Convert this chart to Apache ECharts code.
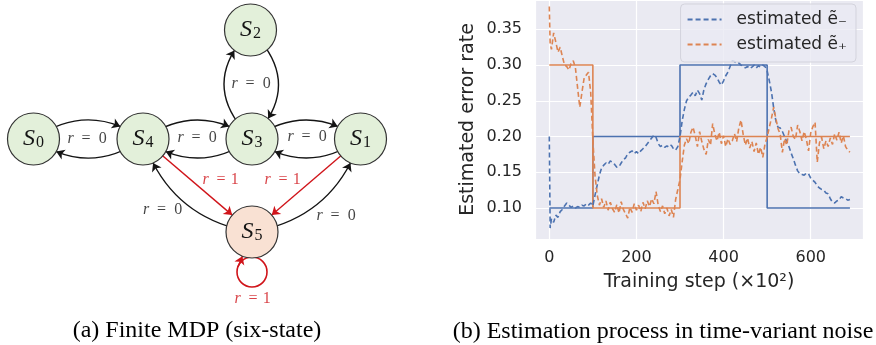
<!DOCTYPE html>
<html>
<head>
<meta charset="utf-8">
<script src="https://cdn.jsdelivr.net/npm/echarts@6/dist/echarts.min.js"></script>
<style>
html, body { margin: 0; padding: 0; background: #fff; }
#chart { width: 876px; height: 345px; }
</style>
</head>
<body>
<div id="chart"></div>
<script>
// ---------- (b) estimation process ----------
// training steps (x10^2): 0, 2, then every 5 up to 690
var steps = [0, 2];
for (var s = 5; s <= 690; s += 5) steps.push(s);

var negEst = [
  0.200, 0.072,
  0.085, 0.080, 0.090, 0.087, 0.095, 0.098, 0.103, 0.107, 0.104, 0.101,
  0.103, 0.100, 0.102, 0.101, 0.104, 0.103, 0.106, 0.104, 0.107, 0.103,
  0.118, 0.132, 0.146, 0.156, 0.160, 0.163, 0.161, 0.166, 0.164, 0.161,
  0.157, 0.158, 0.163, 0.168, 0.170, 0.176, 0.178, 0.180, 0.176, 0.179,
  0.176, 0.180, 0.183, 0.186, 0.190, 0.194, 0.198, 0.202, 0.199, 0.190,
  0.186, 0.188, 0.185, 0.187, 0.185, 0.188, 0.183, 0.181, 0.186, 0.200,
  0.222, 0.238, 0.250, 0.255, 0.258, 0.262, 0.257, 0.265, 0.260, 0.251,
  0.266, 0.274, 0.280, 0.285, 0.288, 0.286, 0.282, 0.276, 0.272, 0.278,
  0.285, 0.290, 0.298, 0.306, 0.305, 0.302, 0.303, 0.300, 0.298, 0.296,
  0.298, 0.295, 0.297, 0.300, 0.296, 0.299, 0.297, 0.300, 0.298, 0.292,
  0.278, 0.262, 0.240, 0.222, 0.213, 0.212, 0.207, 0.200, 0.193, 0.186,
  0.177, 0.169, 0.160, 0.152, 0.148, 0.147, 0.146, 0.149, 0.148, 0.142,
  0.139, 0.136, 0.131, 0.128, 0.126, 0.125, 0.121, 0.120, 0.113, 0.108,
  0.107, 0.110, 0.111, 0.116, 0.114, 0.113, 0.111, 0.112
];
var posEst = [
  0.382, 0.330,
  0.322, 0.345, 0.332, 0.318, 0.325, 0.312, 0.300, 0.298, 0.293, 0.302,
  0.306, 0.296, 0.268, 0.241, 0.262, 0.282, 0.286, 0.290, 0.262, 0.195,
  0.145, 0.118, 0.104, 0.113, 0.101, 0.110, 0.097, 0.108, 0.099, 0.094,
  0.105, 0.093, 0.109, 0.098, 0.092, 0.086, 0.101, 0.094, 0.106, 0.097,
  0.104, 0.095, 0.108, 0.099, 0.110, 0.102, 0.113, 0.106, 0.123, 0.104,
  0.095, 0.103, 0.092, 0.100, 0.089, 0.098, 0.087, 0.112, 0.126, 0.140,
  0.165, 0.188, 0.197, 0.190, 0.206, 0.213, 0.201, 0.186, 0.207, 0.193,
  0.182, 0.175, 0.196, 0.188, 0.218, 0.203, 0.194, 0.206, 0.190, 0.201,
  0.186, 0.197, 0.189, 0.194, 0.204, 0.193, 0.212, 0.223, 0.203, 0.188,
  0.198, 0.184, 0.193, 0.179, 0.191, 0.175, 0.185, 0.171, 0.189, 0.199,
  0.213, 0.226, 0.241, 0.225, 0.211, 0.203, 0.178, 0.197, 0.188, 0.208,
  0.213, 0.200, 0.196, 0.216, 0.207, 0.194, 0.207, 0.196, 0.180, 0.205,
  0.214, 0.220, 0.164, 0.191, 0.199, 0.183, 0.194, 0.186, 0.198, 0.189,
  0.204, 0.195, 0.206, 0.191, 0.201, 0.186, 0.181, 0.178
];

// true (time-variant) noise rates, piecewise constant
var trueSteps = [0, 100, 300, 500, 690];
var trueNeg = [0.1, 0.2, 0.3, 0.1, 0.1];
var truePos = [0.3, 0.1, 0.2, 0.2, 0.2];

var legendNames = ['estimated ẽ₋', 'estimated ẽ₊'];

// ---------- (a) six-state MDP ----------
var nodeNames = ['S0', 'S1', 'S2', 'S3', 'S4', 'S5'];
var nodeX = [33.5, 360.5, 250.5, 252, 143, 252];
var nodeY = [139, 139, 30, 139, 139, 232];

var linkFrom   = ['S0', 'S4', 'S4', 'S3', 'S3', 'S1', 'S3', 'S2', 'S4', 'S1', 'S5', 'S5'];
var linkTo     = ['S4', 'S0', 'S3', 'S4', 'S1', 'S3', 'S2', 'S3', 'S5', 'S5', 'S4', 'S1'];
var linkReward = [0, 0, 0, 0, 0, 0, 0, 0, 1, 1, 0, 0];
var linkBend   = [0.35, 0.35, 0.35, 0.35, 0.35, 0.35, 0.5, 0.5, 0, 0, 0.3, -0.3];

// self loop on S5 (reward 1)
var loopCenter = [252, 272];
var loopTail = [238, 267];

var labelX = [87, 197, 307, 251, 220.5, 282.5, 162.5, 336, 252.5];
var labelY = [139, 137.5, 137, 84, 180, 180, 210, 216, 299];
var labelReward = [0, 0, 0, 0, 1, 1, 0, 0, 1];

var BLUE = '#4C72B0', ORANGE = '#DD8452', RED = '#D0141A', INK = '#141414';
var TXT = '#262626';

function pairs(xs, ys) {
  return xs.map(function (x, i) { return [x, ys[i]]; });
}

var graphNodes = [
  { name: 'loop', value: loopCenter, symbolSize: 30,
    itemStyle: { color: 'rgba(0,0,0,0)', borderColor: RED, borderWidth: 1.6 }, label: { show: false } },
  { name: 'loopTail', value: loopTail, symbolSize: 0, label: { show: false } }
];
nodeNames.forEach(function (n, i) {
  graphNodes.push({
    name: n, value: [nodeX[i], nodeY[i]],
    itemStyle: { color: n === 'S5' ? '#F9E1D3' : '#E3F0DA' }
  });
});

var graphLinks = linkFrom.map(function (f, i) {
  return {
    source: f, target: linkTo[i],
    lineStyle: { color: linkReward[i] ? RED : INK, curveness: linkBend[i] }
  };
});
graphLinks.push({ source: 'loopTail', target: 'S5', lineStyle: { color: RED, curveness: 0 } });

var edgeLabels = labelX.map(function (x, i) {
  return { value: [x, labelY[i]], reward: labelReward[i] };
});

var chart = echarts.init(document.getElementById('chart'));
chart.setOption({
  animation: false,
  grid: [
    { left: 535, right: 13, top: 0, bottom: 106, show: true, backgroundColor: '#EAEAF2', borderWidth: 0 },
    { left: 0, top: 0, width: 440, height: 345, show: false }
  ],
  xAxis: [
    {
      type: 'value', gridIndex: 0, min: -32.8, max: 720, splitNumber: 4,
      axisLine: { show: false }, axisTick: { show: false },
      axisLabel: { showMinLabel: false, showMaxLabel: false, color: TXT, fontSize: 16, margin: 11, fontFamily: 'DejaVu Sans' },
      splitLine: { lineStyle: { color: '#ffffff', width: 1.2 } },
      name: 'Training step (×10²)', nameLocation: 'middle', nameGap: 34,
      nameTextStyle: { fontSize: 19, color: TXT, fontFamily: 'DejaVu Sans' }
    },
    { type: 'value', gridIndex: 1, min: 0, max: 440, show: false }
  ],
  yAxis: [
    {
      type: 'value', gridIndex: 0, min: 0.0567, max: 0.391, splitNumber: 7,
      axisLine: { show: false }, axisTick: { show: false },
      axisLabel: {
        showMinLabel: false, showMaxLabel: false, color: TXT, fontSize: 16, margin: 13, fontFamily: 'DejaVu Sans',
        formatter: function (v) { return v.toFixed(2); }
      },
      splitLine: { lineStyle: { color: '#ffffff', width: 1.2 } },
      name: 'Estimated error rate', nameLocation: 'middle', nameGap: 57,
      nameTextStyle: { fontSize: 19, color: TXT, fontFamily: 'DejaVu Sans' }
    },
    { type: 'value', gridIndex: 1, min: 0, max: 345, inverse: true, show: false }
  ],
  legend: {
    data: legendNames, orient: 'vertical', right: 20, top: 4,
    itemWidth: 34, itemHeight: 12, itemGap: 8,
    padding: [7, 9, 9, 6],
    itemStyle: { opacity: 0 },
    backgroundColor: 'rgba(234,234,242,0.8)', borderColor: '#d3d3dc', borderWidth: 1, borderRadius: 4,
    textStyle: { fontFamily: 'DejaVu Sans', fontSize: 17, color: TXT, padding: [0, 0, 0, 10] }
  },
  graphic: [
    { type: 'text', x: 197, y: 331, style: { text: '(a) Finite MDP (six-state)', fontFamily: 'Liberation Serif', fontSize: 24, fill: '#000', align: 'center', verticalAlign: 'middle' } },
    { type: 'text', x: 663, y: 332, style: { text: '(b) Estimation process in time-variant noise', fontFamily: 'Liberation Serif', fontSize: 24, fill: '#000', align: 'center', verticalAlign: 'middle' } }
  ],
  series: [
    { name: 'true e-', type: 'line', step: 'end', showSymbol: false, xAxisIndex: 0, yAxisIndex: 0,
      data: pairs(trueSteps, trueNeg), lineStyle: { color: BLUE, width: 1.6 }, itemStyle: { color: BLUE } },
    { name: 'true e+', type: 'line', step: 'end', showSymbol: false, xAxisIndex: 0, yAxisIndex: 0,
      data: pairs(trueSteps, truePos), lineStyle: { color: ORANGE, width: 1.6 }, itemStyle: { color: ORANGE } },
    { name: legendNames[0], type: 'line', showSymbol: false, symbol: 'none', xAxisIndex: 0, yAxisIndex: 0,
      data: pairs(steps, negEst), lineStyle: { color: BLUE, width: 1.6, type: [5, 3] }, itemStyle: { color: BLUE } },
    { name: legendNames[1], type: 'line', showSymbol: false, symbol: 'none', xAxisIndex: 0, yAxisIndex: 0,
      data: pairs(steps, posEst), lineStyle: { color: ORANGE, width: 1.6, type: [5, 3] }, itemStyle: { color: ORANGE } },
    {
      name: 'mdp', type: 'graph', layout: 'none', coordinateSystem: 'cartesian2d', xAxisIndex: 1, yAxisIndex: 1,
      symbolSize: 52, roam: false,
      itemStyle: { borderColor: '#333', borderWidth: 1.2 },
      lineStyle: { opacity: 1, width: 1.4 },
      edgeSymbol: ['none', 'arrow'], edgeSymbolSize: [0, 8],
      label: {
        show: true, position: 'inside',
        formatter: function (p) { return '{s|S}{n|' + p.name.slice(1) + '}'; },
        rich: {
          s: { fontFamily: 'Liberation Serif', fontStyle: 'italic', fontSize: 24, color: INK, lineHeight: 24, verticalAlign: 'middle' },
          n: { fontFamily: 'Liberation Serif', fontSize: 16, color: INK, lineHeight: 16, verticalAlign: 'bottom', padding: [10, 0, 0, 1] }
        }
      },
      data: graphNodes, links: graphLinks
    },
    {
      name: 'rewards', type: 'scatter', xAxisIndex: 1, yAxisIndex: 1, symbolSize: 1,
      itemStyle: { color: 'rgba(0,0,0,0)' },
      data: edgeLabels,
      label: {
        show: true, position: 'inside',
        formatter: function (p) {
          var r = p.data.reward;
          var c = r ? 'R' : 'K';
          return '{r' + c + '|r}{e' + c + '|=}{v' + c + '|' + r + '}';
        },
        rich: {
          rK: { fontFamily: 'Liberation Serif', fontStyle: 'italic', fontSize: 16, color: INK },
          eK: { fontFamily: 'Liberation Serif', fontSize: 16, color: INK, padding: [0, 8, 0, 8] },
          vK: { fontFamily: 'Liberation Serif', fontSize: 16, color: INK },
          rR: { fontFamily: 'Liberation Serif', fontStyle: 'italic', fontSize: 16, color: RED },
          eR: { fontFamily: 'Liberation Serif', fontSize: 16, color: RED, padding: [0, 5, 0, 8] },
          vR: { fontFamily: 'Liberation Serif', fontSize: 16, color: RED }
        }
      }
    }
  ]
});
</script>
</body>
</html>
